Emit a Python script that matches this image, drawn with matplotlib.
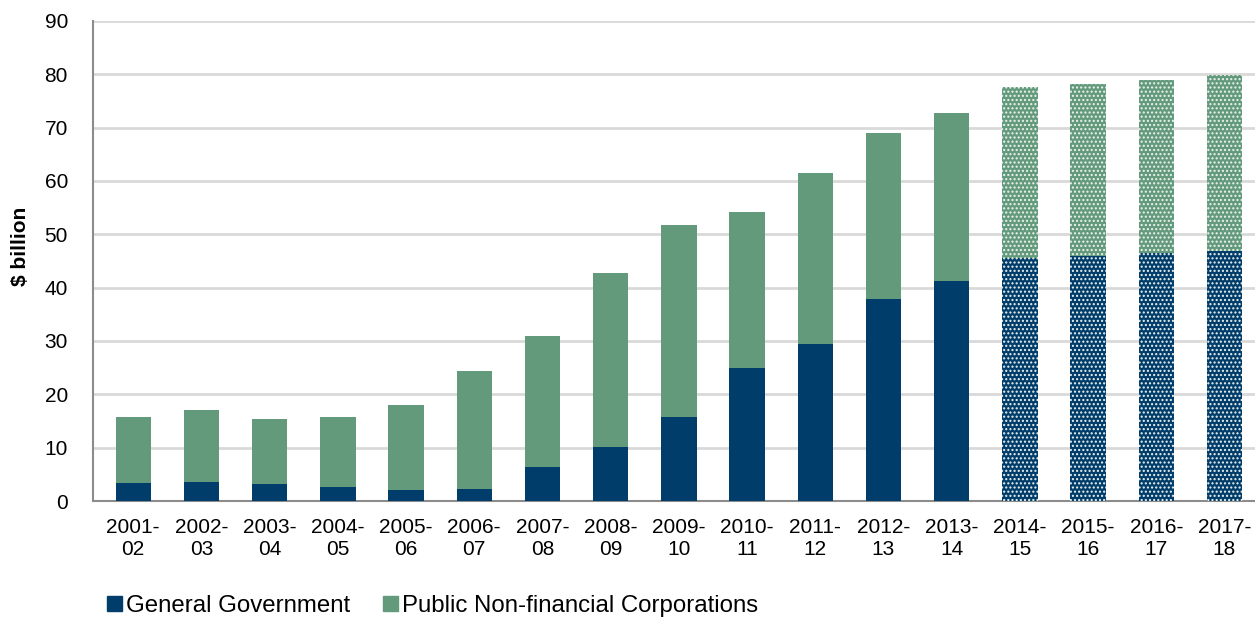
import matplotlib
matplotlib.use("Agg")
import matplotlib.pyplot as plt
from matplotlib.patches import Patch
import numpy as np

plt.rcParams['font.family'] = ['Liberation Sans', 'DejaVu Sans']
plt.rcParams['hatch.linewidth'] = 1.0

years = ["2001-\n02", "2002-\n03", "2003-\n04", "2004-\n05", "2005-\n06", "2006-\n07",
         "2007-\n08", "2008-\n09", "2009-\n10", "2010-\n11", "2011-\n12", "2012-\n13",
         "2013-\n14", "2014-\n15", "2015-\n16", "2016-\n17", "2017-\n18"]
general_gov = [3.4, 3.6, 3.1, 2.7, 2.1, 2.3, 6.3, 10.2, 15.8, 25.0, 29.5, 37.8,
               41.3, 45.6, 46.0, 46.5, 46.9]
total = [15.7, 17.1, 15.3, 15.8, 18.0, 24.4, 31.0, 42.7, 51.7, 54.1, 61.5, 69.0,
         72.8, 77.6, 78.2, 79.0, 79.8]
public_nfc = [t - g for t, g in zip(total, general_gov)]
n_actual = 13  # years from 2014-15 on are projections

GG_COLOR = "#003D6A"
PNFC_COLOR = "#639A7B"

fig = plt.figure(figsize=(12.55, 6.17), dpi=100)
ax = fig.add_axes([0.0741, 0.188, 0.926, 0.778])

x = np.arange(len(years))
width = 0.52
for i in x:
    hatch = None if i < n_actual else "...."
    ec = "none" if i < n_actual else "#EEF3F0"
    ax.bar(i, general_gov[i], width, color=GG_COLOR, hatch=hatch, edgecolor=ec,
           linewidth=0, zorder=3)
    ax.bar(i, public_nfc[i], width, bottom=general_gov[i], color=PNFC_COLOR,
           hatch=hatch, edgecolor=ec, linewidth=0, zorder=3)

ax.set_xlim(-0.59, 16.45)
ax.set_ylim(0, 90)
ax.set_yticks(np.arange(0, 91, 10))
ax.set_xticks(x)
ax.set_xticklabels(years, fontsize=15, linespacing=1.2)
ax.tick_params(axis='y', labelsize=15, length=0, pad=18)
ax.tick_params(axis='x', length=0, pad=12)
ax.yaxis.grid(True, color="#D9D9D9", linewidth=2, zorder=0)
ax.set_axisbelow(True)
for s in ["top", "right"]:
    ax.spines[s].set_visible(False)
for s in ["left", "bottom"]:
    ax.spines[s].set_color("#8C8C8C")
    ax.spines[s].set_linewidth(1.5)

ax.set_ylabel("$ billion", fontsize=15, fontweight="bold")
ax.yaxis.set_label_coords(-0.0546, 0.53)

handles = [Patch(color=GG_COLOR, label="General Government"),
           Patch(color=PNFC_COLOR, label="Public Non-financial Corporations")]
fig.legend(handles=handles, loc="center left", bbox_to_anchor=(0.0853, 0.018),
           ncol=2, frameon=False, fontsize=17.3, handlelength=0.62, handleheight=0.62,
           handletextpad=0.15, columnspacing=1.4, borderpad=0, borderaxespad=0)

fig.savefig("out.png", dpi=100)
